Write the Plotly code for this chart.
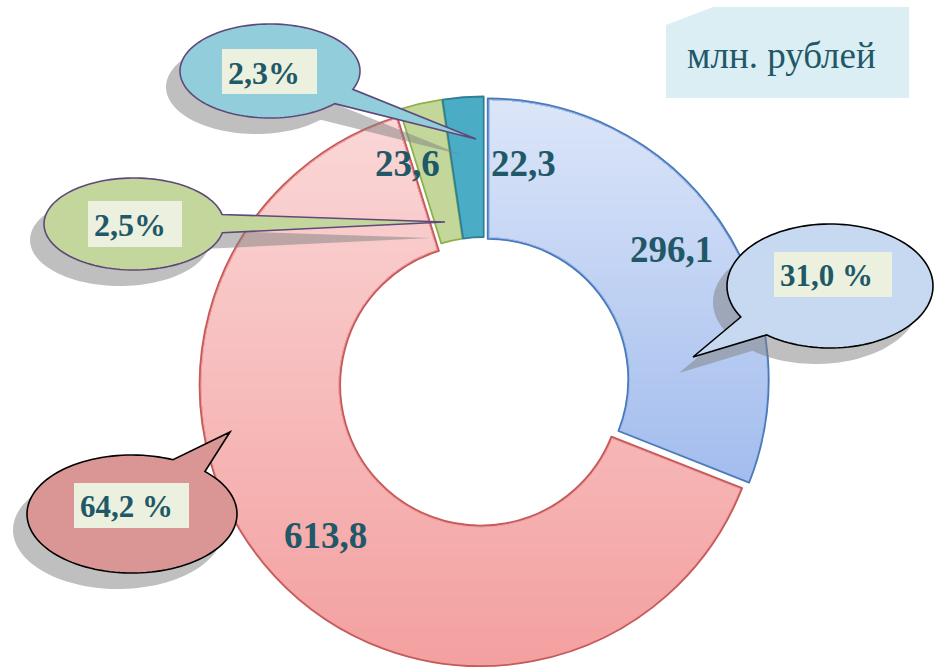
import base64
import struct
import zlib

import numpy as np
import plotly.graph_objects as go

# ---- data -------------------------------------------------------------
values = [296.1, 613.8, 23.6, 22.3]
value_labels = ["296,1", "613,8", "23,6", "22,3"]
percent_labels = ["31,0 %", "64,2 %", "2,5%", "2,3%"]
unit_label = "млн. рублей"

# ---- styling ----------------------------------------------------------
W, H = 936, 670
slice_colors = ["#a3bdee", "#f4a0a0", "#c4d79b", "#4bacc6"]
slice_edges = ["#4a7ab8", "#c45a5a", "#8fb04a", "#2f7f96"]
bubble_fill = ["#c6d9f1", "#d99694", "#c3d69b", "#92cddc"]
bubble_edge = ["#000000", "#000000", "#5f497a", "#5f497a"]
text_color = "#215868"
label_box = "#ebf1de"
serif = "Liberation Serif"

cx, cy, r = 484.0, 382.0, 281.0   # donut centre / outer radius in px
pull = 0.016
hole = 0.5
R = r * (1 + pull)


def X(px):
    return px / W


def Y(py):
    return 1 - py / H


# ---- donut --------------------------------------------------------------
fig = go.Figure(go.Pie(
    values=values,
    sort=False,
    direction="clockwise",
    rotation=0,
    hole=hole,
    pull=[pull] * len(values),
    textinfo="none",
    hoverinfo="skip",
    showlegend=False,
    marker=dict(colors=slice_colors, line=dict(color=slice_edges, width=1.8)),
    domain=dict(x=[X(cx - R), X(cx + R)], y=[Y(cy + R), Y(cy - R)]),
))


# ---- soft vertical shading inside the two large slices -----------------
def png_uri(rgba):
    h, w, _ = rgba.shape
    raw = b"".join(b"\x00" + rgba[i].tobytes() for i in range(h))

    def chunk(tag, data):
        return (struct.pack(">I", len(data)) + tag + data
                + struct.pack(">I", zlib.crc32(tag + data) & 0xFFFFFFFF))

    png = (b"\x89PNG\r\n\x1a\n"
           + chunk(b"IHDR", struct.pack(">IIBBBBB", w, h, 8, 6, 0, 0, 0))
           + chunk(b"IDAT", zlib.compress(raw, 9))
           + chunk(b"IEND", b""))
    return "data:image/png;base64," + base64.b64encode(png).decode()


fractions = np.array(values) / np.sum(values)
bounds = np.concatenate([[0], np.cumsum(fractions)]) * 360
shade_max = [0.62, 0.58, 0.0, 0.0]
inset = 2.0   # keep the slice outlines crisp

gx0, gy0, gx1, gy1 = 180, 88, 790, 670
xs = np.arange(gx0, gx1) + 0.5
ys = np.arange(gy0, gy1) + 0.5
XX, YY = np.meshgrid(xs, ys)
alpha = np.zeros_like(XX)
for k in range(len(values)):
    a0, a1 = bounds[k], bounds[k + 1]
    mid = np.radians((a0 + a1) / 2)
    kx = cx + pull * r * np.sin(mid)
    ky = cy - pull * r * np.cos(mid)
    theta = np.degrees(np.arctan2(XX - kx, -(YY - ky))) % 360
    dist = np.hypot(XX - kx, YY - ky)
    ang = np.radians(np.linspace(a0, a1, 200))
    arc_y = ky - r * np.cos(ang)
    top, bot = arc_y.min(), arc_y.max()
    ramp = np.clip((bot - YY) / (bot - top), 0, 1) * shade_max[k]
    off0 = theta - a0
    off1 = a1 - theta
    clear0 = (off0 > 90) | (dist * np.sin(np.radians(off0)) > inset)
    clear1 = (off1 > 90) | (dist * np.sin(np.radians(off1)) > inset)
    sel = ((theta >= a0) & (theta < a1)
           & (dist < r - inset) & (dist > r * hole + inset)
           & clear0 & clear1)
    alpha[sel] = ramp[sel]
img = np.zeros((len(ys), len(xs), 4), dtype=np.uint8)
img[..., :3] = 255
img[..., 3] = np.round(alpha * 255).astype(np.uint8)

fig.add_layout_image(dict(
    source=png_uri(img), xref="paper", yref="paper",
    x=X(gx0), y=Y(gy0), sizex=(gx1 - gx0) / W, sizey=(gy1 - gy0) / H,
    xanchor="left", yanchor="top", sizing="stretch", layer="above",
))

# ---- speech-bubble call-outs -------------------------------------------
# centre, radii, tail attach angles (deg), tail tip, text box (x0, y0, x1, y1)
bubbles = [
    dict(c=(830, 286), rx=103, ry=62, att=(128, 150), tip=(693, 357), box=(774, 252, 892, 297)),
    dict(c=(132, 514), rx=105, ry=59, att=(-67, -46), tip=(230, 432), box=(74, 483, 189, 528)),
    dict(c=(134, 224), rx=90, ry=46, att=(-12, 11), tip=(445, 222), box=(88, 201, 182, 247)),
    dict(c=(270, 71), rx=90, ry=47, att=(23, 44), tip=(476, 139), box=(222, 49, 317, 94)),
]
shadow_dx, shadow_dy = -14, 16


def bubble_path(b, dx=0, dy=0):
    (bx, by), rx, ry = b["c"], b["rx"], b["ry"]
    a1, a2 = b["att"]
    ts = np.radians(np.linspace(a2, a1 + 360, 120))
    pts = [(b["tip"][0] + dx, b["tip"][1] + dy)]
    pts += [(bx + rx * np.cos(t) + dx, by + ry * np.sin(t) + dy) for t in ts]
    return "M " + " L ".join(f"{X(px):.5f},{Y(py):.5f}" for px, py in pts) + " Z"


shapes = []
for b in bubbles:
    shapes.append(dict(type="path", xref="paper", yref="paper", layer="above",
                       path=bubble_path(b, shadow_dx, shadow_dy),
                       fillcolor="rgba(127,127,127,0.5)", line=dict(width=0)))
for i, b in enumerate(bubbles):
    shapes.append(dict(type="path", xref="paper", yref="paper", layer="above",
                       path=bubble_path(b), fillcolor=bubble_fill[i],
                       line=dict(color=bubble_edge[i], width=1.6)))
    x0, y0, x1, y1 = b["box"]
    shapes.append(dict(type="rect", xref="paper", yref="paper", layer="above",
                       x0=X(x0), x1=X(x1), y0=Y(y1), y1=Y(y0),
                       fillcolor=label_box, line=dict(width=0)))

# unit box with a clipped top-left corner
unit_pts = [(666, 25), (713, 7), (909, 7), (909, 98), (666, 98)]
shapes.append(dict(type="path", xref="paper", yref="paper", layer="above",
                   path="M " + " L ".join(f"{X(a):.5f},{Y(b):.5f}" for a, b in unit_pts) + " Z",
                   fillcolor="#dbeef4", line=dict(width=0)))

annotations = []
for i, b in enumerate(bubbles):
    x0, y0, x1, y1 = b["box"]
    annotations.append(dict(
        x=X(x0 + 4), y=Y((y0 + y1) / 2 + 1), xref="paper", yref="paper",
        text=percent_labels[i], showarrow=False, xanchor="left", yanchor="middle",
        font=dict(family=serif, size=31 if i < 2 else 32, color=text_color, weight="bold"),
    ))

value_pos = [(671, 249), (325, 535), (407, 163), (523, 163)]
for (px, py), txt in zip(value_pos, value_labels):
    annotations.append(dict(
        x=X(px), y=Y(py), xref="paper", yref="paper", text=txt, showarrow=False,
        xanchor="center", yanchor="middle",
        font=dict(family=serif, size=37, color=text_color, weight="bold"),
    ))

annotations.append(dict(
    x=X(781), y=Y(56), xref="paper", yref="paper", text=unit_label, showarrow=False,
    xanchor="center", yanchor="middle",
    font=dict(family=serif, size=37, color=text_color),
))

fig.update_layout(
    width=W, height=H,
    margin=dict(l=0, r=0, t=0, b=0),
    paper_bgcolor="white", plot_bgcolor="white",
    shapes=shapes, annotations=annotations,
)

fig.write_html("out.html")
